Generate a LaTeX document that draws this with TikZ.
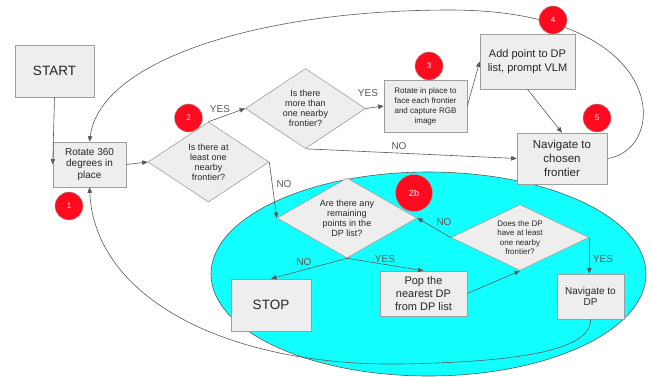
\documentclass[tikz,border=0pt]{standalone}
\usepackage{fontspec}
\setmainfont{Liberation Sans}
\usepackage{xcolor}
\usetikzlibrary{shapes,arrows.meta,positioning}

\definecolor{boxfill}{HTML}{EEEEEE}
\definecolor{boxline}{HTML}{9E9E9E}
\definecolor{linecol}{HTML}{595959}
\definecolor{poolcol}{HTML}{12FFFF}
\definecolor{markred}{HTML}{FF0A1E}

\begin{document}
\begin{tikzpicture}[
    x=1pt, y=-1pt,
    box/.style={draw=boxline, fill=boxfill, line width=0.6pt, align=center, inner sep=1pt, text=black!85},
    decision/.style={diamond, aspect=1.6, draw=boxline, fill=boxfill, line width=0.6pt, align=center, inner sep=0pt, text=black!85, font=\fontsize{9}{10}\selectfont},
    marker/.style={circle, draw=boxline, fill=markred, text=white, minimum size=28pt, inner sep=0pt, font=\fontsize{8}{9}\selectfont},
    flow/.style={draw=linecol, line width=0.6pt, -{Triangle[length=5.5pt,width=4.5pt]}},
    lbl/.style={text=linecol, font=\fontsize{10}{11}\selectfont, inner sep=0pt}
]
    \useasboundingbox (0,0) rectangle (651,376);

    % cyan region round the DP part
    \draw[draw=linecol, line width=0.6pt, fill=poolcol] (428.5,274) ellipse [x radius=217.5pt, y radius=102pt];

    % main loop
    \node[box, minimum width=79pt, minimum height=52pt, font=\fontsize{13.5}{16}\selectfont] (start) at (54.5,71) {START};
    \node[box, minimum width=73pt, minimum height=45pt, font=\fontsize{10}{11.5}\selectfont] (rotate) at (89.5,164.5) {Rotate 360\\degrees in\\place};
    \node[decision, minimum width=121pt, minimum height=80pt] (anyfront) at (208.5,162) {Is there at\\least one\\nearby\\frontier?};
    \node[decision, minimum width=120pt, minimum height=80pt] (multifront) at (305.5,108.5) {Is there\\more than\\one nearby\\frontier?};
    \node[box, minimum width=83pt, minimum height=52pt, font=\fontsize{8}{10}\selectfont] (capture) at (425.5,106) {Rotate in place to\\face each frontier\\and capture RGB\\image};
    \node[box, minimum width=95pt, minimum height=55pt, font=\fontsize{11}{14}\selectfont] (addpoint) at (527.5,61.5) {Add point to DP\\list, prompt VLM};
    \node[box, minimum width=90pt, minimum height=51pt, font=\fontsize{11.5}{14.3}\selectfont] (navfront) at (562,158.5) {Navigate to\\chosen\\frontier};

    % DP part
    \node[decision, aspect=1.75, minimum width=140pt, minimum height=80pt] (remaining) at (347,218) {Are there any\\remaining\\points in the\\DP list?};
    \node[decision, aspect=2, minimum width=138pt, minimum height=66pt, font=\fontsize{8}{9.5}\selectfont] (dpfront) at (520,237.5) {Does the DP\\have at least\\one nearby\\frontier?};
    \node[box, minimum width=80pt, minimum height=52pt, font=\fontsize{13.5}{16}\selectfont] (stop) at (271,305) {STOP};
    \node[box, minimum width=87pt, minimum height=45pt, font=\fontsize{11}{13}\selectfont] (pop) at (423.5,293.5) {Pop the\\nearest DP\\from DP list};
    \node[box, minimum width=67pt, minimum height=45pt, font=\fontsize{10}{11.5}\selectfont] (navdp) at (590.5,296.5) {Navigate to\\DP};

    \coordinate (looptop) at (450,10);
    \coordinate (loopbottom) at (400,364);

    % connectors
    \draw[flow] (start.south) -- (rotate.west);
    \draw[flow] (rotate.east) -- (anyfront.west);
    \draw[flow] (anyfront.north) -- (multifront.west);
    \draw[flow] (multifront.east) -- (capture.west);
    \draw[flow] (capture.east) -- (addpoint.west);
    \draw[flow] (addpoint.south) -- (navfront.north);
    \draw[flow] (multifront.south) -- (navfront.west);
    \draw[flow] (navfront.east) .. controls (670,150) and (670,10) .. (looptop)
        .. controls (260,10) and (100,60) .. (rotate.north);
    \draw[flow] (anyfront.east) -- (remaining.west);
    \draw[flow] (remaining.south) -- (stop.north);
    \draw[flow] (remaining.south) -- (pop.north);
    \draw[flow] (pop.east) -- (dpfront.south);
    \draw[flow] (dpfront.west) -- (remaining.east);
    \draw[flow] (dpfront.east) -- (dpfront.east |- navdp.north);
    \draw[flow] (navdp.south) .. controls (592,350) and (520,362) .. (loopbottom)
        .. controls (230,366) and (95,300) .. (rotate.south);

    % YES / NO
    \node[lbl] (yes1) at (220,109) {YES};
    \node[lbl] (yes2) at (368,93) {YES};
    \node[lbl] (no1) at (399,146) {NO};
    \node[lbl] (no2) at (284,184) {NO};
    \node[lbl] (no3) at (304,262) {NO};
    \node[lbl] (yes3) at (385,259) {YES};
    \node[lbl] (no4) at (444,222) {NO};
    \node[lbl] (yes4) at (603,259) {YES};

    % step markers
    \node[marker] (m1) at (69,206) {1};
    \node[marker] (m2) at (188.5,118) {2};
    \node[marker] (m3) at (429,66) {3};
    \node[marker] (m4) at (553,20) {4};
    \node[marker] (m5) at (597,118) {5};
    \node[marker, minimum size=37pt, font=\fontsize{9}{10}\selectfont] (m2b) at (414,193) {2b};
\end{tikzpicture}
\end{document}
